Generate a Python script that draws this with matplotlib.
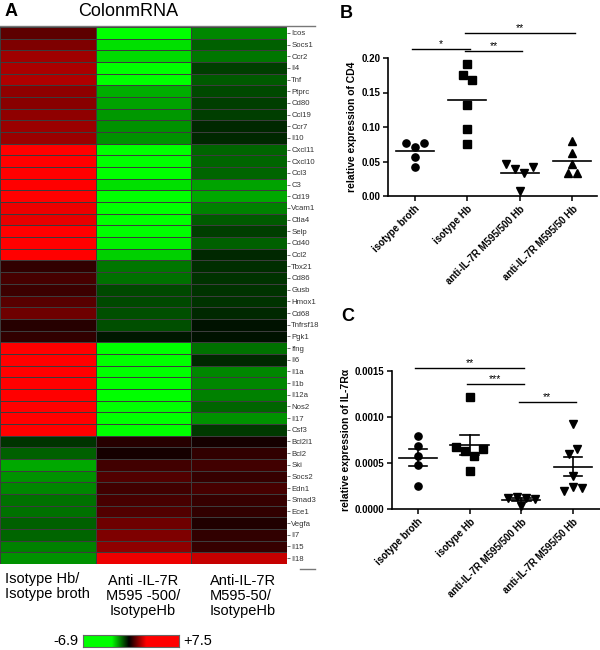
import numpy as np
import matplotlib
matplotlib.use("Agg")
import matplotlib.pyplot as plt
from matplotlib.colors import LinearSegmentedColormap, Normalize
from matplotlib.lines import Line2D

plt.rcParams['font.family'] = ['Liberation Sans', 'DejaVu Sans']

# ---------------- DATA ----------------
genes = ["Icos", "Socs1", "Ccr2", "Il4", "Tnf", "Ptprc", "Cd80", "Ccl19", "Ccr7", "Il10",
         "Cxcl11", "Cxcl10", "Ccl3", "C3", "Cd19", "Vcam1", "Ctla4", "Selp", "Cd40", "Ccl2",
         "Tbx21", "Cd86", "Gusb", "Hmox1", "Cd68", "Tnfrsf18", "Pgk1", "Ifng", "Il6", "Il1a",
         "Il1b", "Il12a", "Nos2", "Il17", "Csf3", "Bcl2l1", "Bcl2", "Ski", "Socs2", "Edn1",
         "Smad3", "Ece1", "Vegfa", "Il7", "Il15", "Il18"]

heat_hb_vs_broth = [0.92, 1.31, 1.63, 1.71, 1.79, 1.47, 1.39, 1.47, 1.55, 1.55,
                    2.9, 2.9, 2.9, 2.9, 2.9, 2.43, 2.37, 2.9, 2.9, 2.9,
                    0.49, 0.73, 0.59, 0.90, 1.14, 0.41, 0.49, 2.9, 2.9, 2.9,
                    2.9, 2.9, 2.9, 2.9, 2.9, -0.49, -0.97, -1.70, -1.46, -1.38,
                    -1.13, -1.13, -0.97, -1.05, -1.29, -1.46]
heat_500_vs_hb = [-3.0, -2.27, -2.19, -3.0, -3.0, -1.78, -1.62, -1.54, -1.46, -1.46,
                  -3.0, -3.0, -3.0, -2.24, -3.0, -3.0, -3.0, -3.0, -2.43, -2.10,
                  -1.21, -1.13, -0.75, -0.73, -0.81, -0.81, -0.24, -3.0, -3.0, -3.0,
                  -3.0, -3.0, -3.0, -3.0, -3.0, 0.41, 0.24, 0.65, 0.82, 0.65,
                  0.73, 0.82, 1.14, 1.31, 1.47, 2.43]
heat_50_vs_hb = [-1.38, -0.97, -1.21, -0.65, -0.89, -0.73, -0.63, -0.65, -0.40, -0.40,
                 -1.05, -1.01, -1.05, -1.62, -1.70, -1.29, -0.89, -0.65, -0.97, -0.40,
                 -0.45, -0.49, -0.49, -0.49, -0.40, -0.20, -0.20, -1.13, -0.40, -1.38,
                 -1.38, -1.29, -1.05, -1.46, -0.57, 0.24, 0.49, 0.65, 0.57, 0.73,
                 0.57, 0.49, 0.33, 0.49, 0.57, 2.0]
heat_columns = ["Isotype Hb/\nIsotype broth", "Anti -IL-7R\nM595 -500/\nIsotypeHb",
                "Anti-IL-7R\nM595-50/\nIsotypeHb"]
scale_min, scale_max = -6.9, 7.5

groups = ["isotype broth", "isotype Hb", "anti-IL-7R M595/500 Hb", "anti-IL-7R M595/50 Hb"]

cd4_broth = [0.0765, 0.0717, 0.0765, 0.0562, 0.0426]
cd4_hb = [0.191, 0.176, 0.1675, 0.132, 0.097, 0.075]
cd4_500 = [0.046, 0.0387, 0.034, 0.0426, 0.0077]
cd4_50 = [0.080, 0.062, 0.047, 0.034, 0.034]

il7r_broth = [0.000793, 0.000685, 0.000576, 0.000482, 0.000254]
il7r_hb = [0.001214, 0.00067, 0.000634, 0.00058, 0.00065, 0.00041]
il7r_500 = [0.00012, 0.00013, 0.00012, 0.00011, 0.00003]
il7r_50 = [0.00092, 0.00060, 0.00065, 0.00036, 0.00020, 0.00024, 0.00023]

cd4_sig = [(0, 1, "*"), (1, 2, "**"), (1, 3, "**")]
il7r_sig = [(0, 2, "**"), (1, 2, "***"), (2, 3, "**")]

# ---------------- FIGURE ----------------
W, H = 600, 650
fig = plt.figure(figsize=(W / 100, H / 100), dpi=100)


def fx(x):
    return x / W


def fy(y):
    return 1 - y / H


def rect(x0, y0, x1, y1):
    return [fx(x0), fy(y1), fx(x1) - fx(x0), fy(y0) - fy(y1)]


cmap = LinearSegmentedColormap.from_list(
    "gbr", [(0.0, "#00ff00"), (0.30, "#00ff00"), (0.479, "#000000"),
            (0.66, "#ff0000"), (1.0, "#ff0000")])
norm = Normalize(scale_min, scale_max)

# ---- Panel A: heatmap ----
axh = fig.add_axes(rect(0, 27, 287, 564))
M = np.array([heat_hb_vs_broth, heat_500_vs_hb, heat_50_vs_hb]).T
axh.pcolormesh(np.arange(M.shape[1] + 1), np.arange(M.shape[0] + 1), M, cmap=cmap,
               norm=norm, edgecolors="#3c3c3c", linewidth=0.6)
axh.set_xlim(0, M.shape[1])
axh.set_ylim(M.shape[0], 0)
axh.set_xticks([])
axh.yaxis.tick_right()
axh.set_yticks(np.arange(len(genes)) + 0.5)
axh.set_yticklabels(genes, fontsize=5.6, color="#333333",
                    family=["Liberation Sans Narrow", "Liberation Sans"])
axh.tick_params(axis="y", length=2, width=0.6, color="#555555", pad=1)
for s in axh.spines.values():
    s.set_visible(False)

fig.add_artist(Line2D([0, fx(315)], [fy(26), fy(26)], color="#777777", lw=1.0))
fig.add_artist(Line2D([fx(300), fx(315)], [fy(569), fy(569)], color="#777777", lw=1.0))

fig.text(fx(5), fy(11), "A", fontsize=13, fontweight="bold", va="center", ha="left")
fig.text(fx(128), fy(12), "ColonmRNA", fontsize=13, va="center", ha="center")

fig.text(fx(5), fy(572), heat_columns[0], fontsize=10.5, va="top", ha="left", linespacing=1.1)
fig.text(fx(143), fy(574), heat_columns[1], fontsize=10.5, va="top", ha="center",
         multialignment="center", linespacing=1.1)
fig.text(fx(210), fy(574), heat_columns[2], fontsize=10.5, va="top", ha="left", linespacing=1.1)

# colorbar
axc = fig.add_axes(rect(83, 635, 179, 647))
grad = np.linspace(scale_min, scale_max, 256).reshape(1, -1)
axc.imshow(grad, aspect="auto", cmap=cmap, norm=norm)
axc.set_xticks([])
axc.set_yticks([])
for s in axc.spines.values():
    s.set_color("#666666")
    s.set_linewidth(0.8)
fig.text(fx(78), fy(641), f"{scale_min:.1f}", fontsize=10.5, va="center", ha="right")
fig.text(fx(183), fy(641), f"+{scale_max:.1f}", fontsize=10.5, va="center", ha="left")


# ---- helpers for scatter panels ----
def swarm_offsets(vals, thresh, step):
    vals = np.asarray(vals, dtype=float)
    order = np.argsort(vals, kind="stable")
    clusters, cur = [], [order[0]]
    for a, b in zip(order[:-1], order[1:]):
        if abs(vals[b] - vals[a]) < thresh:
            cur.append(b)
        else:
            clusters.append(cur)
            cur = [b]
    clusters.append(cur)
    off = np.zeros(len(vals))
    for c in clusters:
        c = sorted(c)
        k = len(c)
        for j, idx in enumerate(c):
            off[idx] = (j - (k - 1) / 2) * step
    return off


def style_axes(ax):
    for side in ("top", "right"):
        ax.spines[side].set_visible(False)
    for side in ("left", "bottom"):
        ax.spines[side].set_linewidth(1.2)
    ax.tick_params(axis="both", length=3.5, width=1.1, labelsize=7, pad=2)
    ax.set_xticks(range(len(groups)))
    ax.set_xticklabels(groups, rotation=45, ha="right", rotation_mode="anchor",
                       fontweight="bold", fontsize=7)
    for lab in ax.get_yticklabels():
        lab.set_fontweight("bold")


def sig_bars(ax, sig, ys, fs=7.5):
    for (a, b, star), y in zip(sig, ys):
        x0, x1 = a - 0.05, b + 0.05
        ax.plot([x0, x1], [y, y], color="black", lw=1.0, clip_on=False)
        ax.text((x0 + x1) / 2, y, star, ha="center", va="bottom", fontsize=fs,
                clip_on=False)


markers_b = ["o", "s", "v", "^"]
markers_c = ["o", "s", "v", "v"]

# ---- Panel B ----
axb = fig.add_axes(rect(388.3, 58, 597, 196))
cd4_sets = [cd4_broth, cd4_hb, cd4_500, cd4_50]
for i, vals in enumerate(cd4_sets):
    off = swarm_offsets(vals, 0.2 / 138 * 6.5, 0.17)
    axb.plot(i + off, vals, linestyle="none", marker=markers_b[i], color="black",
             markersize=5.2, clip_on=False)
    m = np.mean(vals)
    axb.plot([i - 0.36, i + 0.36], [m, m], color="black", lw=1.2)
axb.set_xlim(-0.5, 3.47)
axb.set_ylim(0, 0.20)
axb.set_yticks([0.0, 0.05, 0.10, 0.15, 0.20])
axb.set_yticklabels(["0.00", "0.05", "0.10", "0.15", "0.20"])
style_axes(axb)
axb.set_ylabel("relative expression of CD4", fontsize=7.5, fontweight="bold", labelpad=3)
sig_bars(axb, cd4_sig, [0.2125, 0.2105, 0.2360])
fig.text(fx(340), fy(13), "B", fontsize=13, fontweight="bold", va="center", ha="left")

# ---- Panel C ----
axcc = fig.add_axes(rect(392, 371, 600, 509))
il_sets = [il7r_broth, il7r_hb, il7r_500, il7r_50]
for i, vals in enumerate(il_sets):
    off = swarm_offsets(vals, 0.0015 / 138 * 6.5, 0.17)
    axcc.plot(i + off, vals, linestyle="none", marker=markers_c[i],
              color="black", markersize=5.2, clip_on=False)
    m = np.mean(vals)
    sem = np.std(vals, ddof=1) / np.sqrt(len(vals))
    axcc.plot([i - 0.37, i + 0.37], [m, m], color="black", lw=1.2)
    axcc.plot([i, i], [m - sem, m + sem], color="black", lw=1.2)
    for yy in (m - sem, m + sem):
        axcc.plot([i - 0.18, i + 0.18], [yy, yy], color="black", lw=1.2)
axcc.set_xlim(-0.5, 3.52)
axcc.set_ylim(0, 0.0015)
axcc.set_yticks([0.0, 0.0005, 0.0010, 0.0015])
axcc.set_yticklabels(["0.0000", "0.0005", "0.0010", "0.0015"])
style_axes(axcc)
axcc.set_ylabel("relative expression of IL-7R\u03b1", fontsize=7.5, fontweight="bold",
                labelpad=3)
sig_bars(axcc, il7r_sig, [0.001536, 0.001359, 0.001163])
fig.text(fx(341), fy(317), "C", fontsize=13, fontweight="bold", va="center", ha="left")

fig.savefig("out.png", dpi=100)
